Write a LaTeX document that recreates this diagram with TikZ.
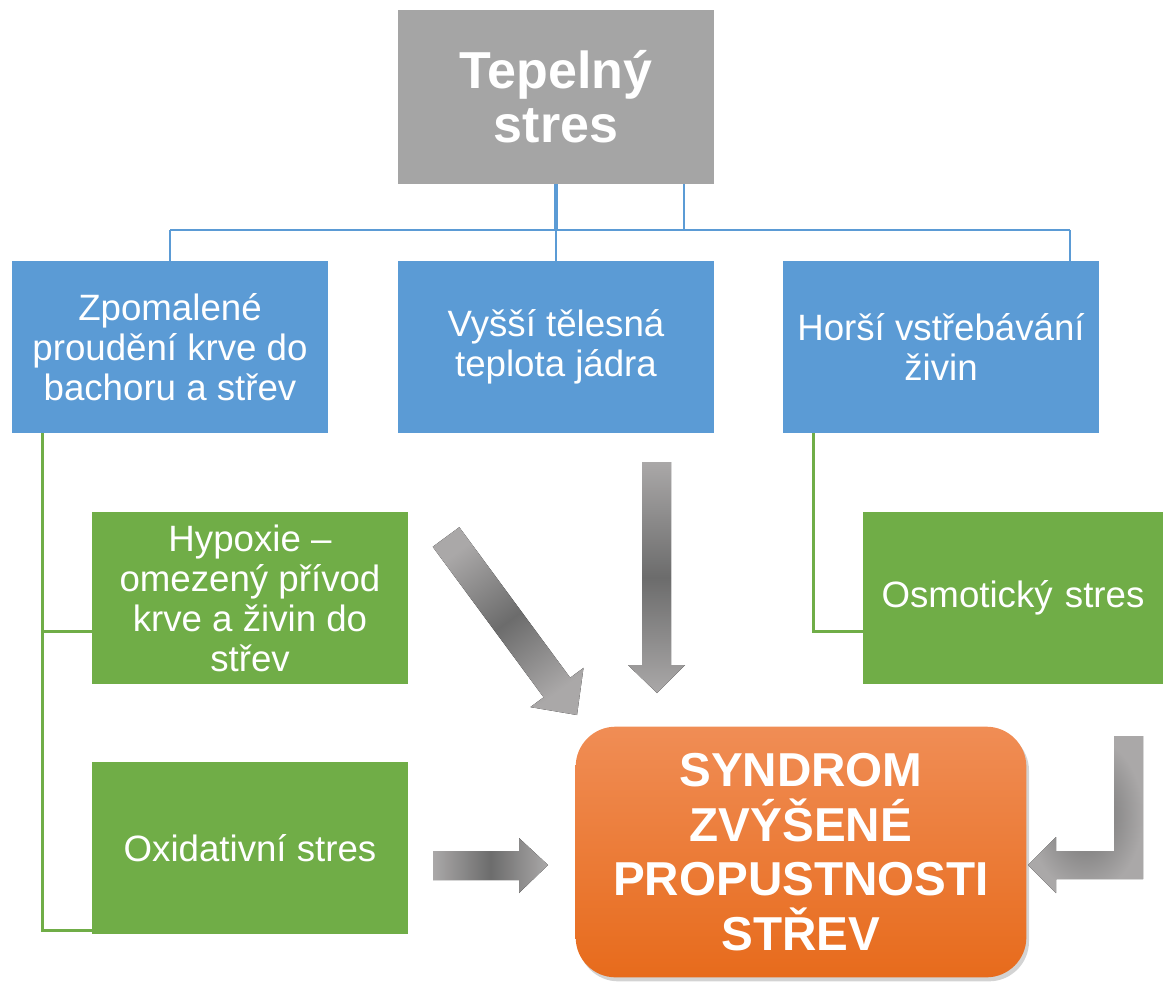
\documentclass[tikz,border=0pt]{standalone}
\usepackage{fontspec}
\setmainfont{Liberation Sans}
\usetikzlibrary{shadows}

\definecolor{boxgray}{HTML}{A5A5A5}
\definecolor{boxblue}{HTML}{5B9BD5}
\definecolor{boxgreen}{HTML}{70AD47}
\definecolor{orangetop}{HTML}{F08D55}
\definecolor{orangemid}{HTML}{F47D2C}
\definecolor{orangebot}{HTML}{E76B1C}
\definecolor{arrowlight}{HTML}{AAA8A8}
\definecolor{arrowdark}{HTML}{6C6C6C}

\begin{document}
\begin{tikzpicture}[x=0.75pt, y=-0.75pt,
    box/.style={minimum width=237pt, minimum height=129pt, text=white, align=center,
        font=\fontsize{27.5}{30}\selectfont},
    blueline/.style={draw=boxblue, line width=2pt},
    greenline/.style={draw=boxgreen, line width=2.25pt},
    blockarrow/.style={draw=none}]
    \useasboundingbox (0,0) rectangle (1163,982);

    % Top: cause
    \node[fill=boxgray, minimum width=237pt, minimum height=130.5pt, text=white, align=center,
        font=\bfseries\fontsize{39}{40.5}\selectfont] (heat) at (556,97) {Tepelný\\stres};

    % Middle row: direct effects
    \node[box, fill=boxblue] (flow) at (170,347) {Zpomalené\\proudění krve do\\bachoru a střev};
    \node[box, fill=boxblue] (temp) at (556,347) {Vyšší tělesná\\teplota jádra};
    \node[box, fill=boxblue] (absorb) at (941,347) {Horší vstřebávání\\živin};

    % Lower row: secondary effects
    \node[box, fill=boxgreen] (hypox) at (250,598) {Hypoxie –\\omezený přívod\\krve a živin do\\střev};
    \node[box, fill=boxgreen] (oxid) at (250,848) {Oxidativní stres};
    \node[box, fill=boxgreen, minimum width=225pt, text width=210pt] (osmo) at (1013,598) {Osmotický stres};

    % Result
    \node[rounded corners=30pt, minimum width=338pt, minimum height=188pt, align=center,
        top color=orangetop, middle color=orangemid, bottom color=orangebot,
        drop shadow={opacity=0.35, shadow xshift=2pt, shadow yshift=-3pt},
        text=white, font=\bfseries\fontsize{35.7}{41}\selectfont] (leak) at (801,852)
        {SYNDROM\\ZVÝŠENÉ\\PROPUSTNOSTI\\STŘEV};

    % Blue hierarchy lines
    \coordinate (busL) at (170,230);
    \coordinate (busR) at (1070,230);
    \draw[blueline, line width=3pt] (heat.south) -- (heat.south |- busL);
    \draw[blueline] (heat.south -| 684,0) -- (684,230);
    \draw[blueline] (busL) -- (busR);
    \draw[blueline] (busL) -- (flow.north);
    \draw[blueline] (heat.south |- busL) -- (temp.north);
    \draw[blueline] (busR) -- (busR |- absorb.north);

    % Green hierarchy lines
    \coordinate (gL) at (42,436);
    \coordinate (gR) at (813,436);
    \draw[greenline] (gL |- flow.south) -- (42,930) -- (oxid.west |- 0,930);
    \draw[greenline] (42,631) -- (hypox.west |- 0,631);
    \draw[greenline] (gR |- absorb.south) -- (813,631) -- (osmo.west |- 0,631);

    % Block arrows into the syndrome
    \fill[blockarrow, top color=arrowlight, bottom color=arrowlight, middle color=arrowdark]
        (642,462) -- (671,462) -- (671,665) -- (685,665) -- (657,693) -- (628,665) -- (642,665) -- cycle;
    \fill[blockarrow, top color=arrowlight, bottom color=arrowlight, middle color=arrowdark, shading angle=36]
        (459.3,527.2) -- (570.2,677.7) -- (583.5,667.9) -- (577,715) -- (530.3,707.1) -- (543.6,697.3) -- (432.7,546.8) -- cycle;
    \fill[blockarrow, left color=arrowlight, right color=arrowlight, middle color=arrowdark]
        (433,851) -- (519,851) -- (519,838) -- (548,865) -- (519,893) -- (519,880) -- (433,880) -- cycle;
    \fill[blockarrow, inner color=arrowdark, outer color=arrowlight]
        (1114,736) -- (1143,736) -- (1143,879) -- (1056,879) -- (1056,893) -- (1028,865) -- (1056,837) -- (1056,851) -- (1114,851) -- cycle;
\end{tikzpicture}
\end{document}
